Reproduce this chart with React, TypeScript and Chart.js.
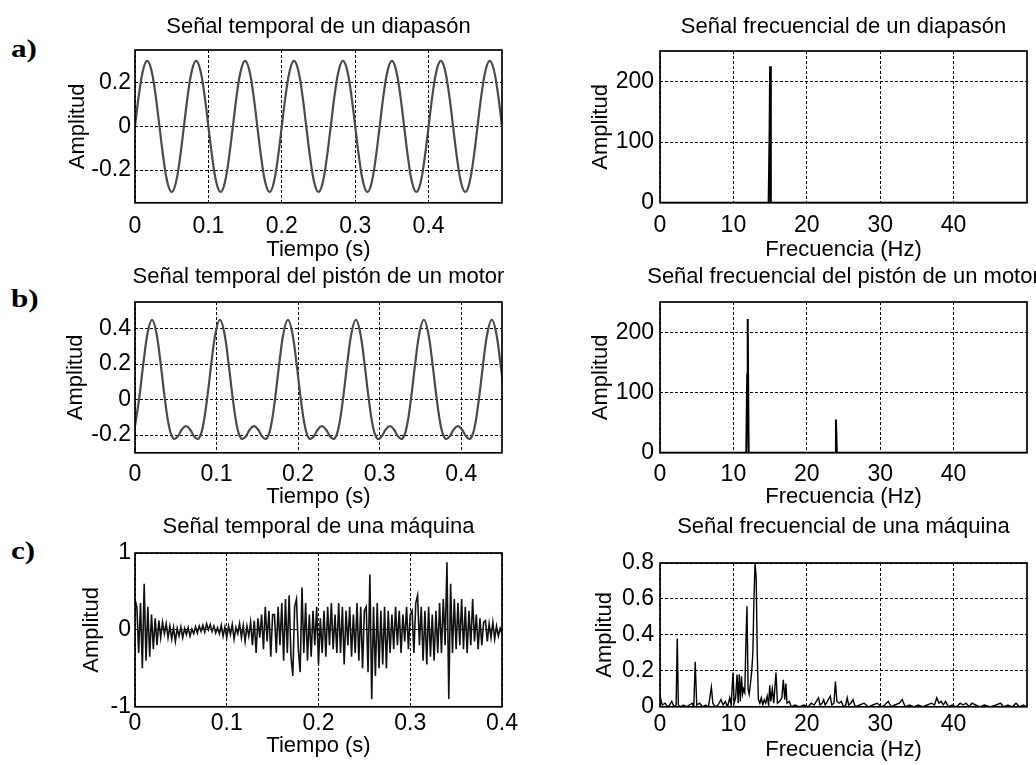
import React, { useEffect, useRef } from "react";
import { Chart, registerables } from "chart.js";

Chart.register(...registerables);

const FONT = "'Liberation Sans', Arial, Helvetica, sans-serif";
const TEXT_COLOR = "#000";

// ---------------- data ----------------
// a) tuning fork, time signal (sample step in seconds)
const PASO_DIAPASON = 1 / 180;
const senalDiapason = [
  0, 0.15, 0.26, 0.3, 0.26, 0.15, 0, -0.15, -0.26, -0.3, -0.26, -0.15,
  0, 0.15, 0.26, 0.3, 0.26, 0.15, 0, -0.15, -0.26, -0.3, -0.26, -0.15,
  0, 0.15, 0.26, 0.3, 0.26, 0.15, 0, -0.15, -0.26, -0.3, -0.26, -0.15,
  0, 0.15, 0.26, 0.3, 0.26, 0.15, 0, -0.15, -0.26, -0.3, -0.26, -0.15,
  0, 0.15, 0.26, 0.3, 0.26, 0.15, 0, -0.15, -0.26, -0.3, -0.26, -0.15,
  0, 0.15, 0.26, 0.3, 0.26, 0.15, 0, -0.15, -0.26, -0.3, -0.26, -0.15,
  0, 0.15, 0.26, 0.3, 0.26, 0.15, 0, -0.15, -0.26, -0.3, -0.26, -0.15,
  0, 0.15, 0.26, 0.3, 0.26, 0.15, 0,
];

// b) engine piston, time signal
const PASO_PISTON = 1 / 192;
const senalPiston = [
  -0.15, 0.01, 0.21, 0.38, 0.45, 0.38, 0.21, 0.01, -0.15, -0.22, -0.21, -0.17, -0.15, -0.17, -0.21, -0.22,
  -0.15, 0.01, 0.21, 0.38, 0.45, 0.38, 0.21, 0.01, -0.15, -0.22, -0.21, -0.17, -0.15, -0.17, -0.21, -0.22,
  -0.15, 0.01, 0.21, 0.38, 0.45, 0.38, 0.21, 0.01, -0.15, -0.22, -0.21, -0.17, -0.15, -0.17, -0.21, -0.22,
  -0.15, 0.01, 0.21, 0.38, 0.45, 0.38, 0.21, 0.01, -0.15, -0.22, -0.21, -0.17, -0.15, -0.17, -0.21, -0.22,
  -0.15, 0.01, 0.21, 0.38, 0.45, 0.38, 0.21, 0.01, -0.15, -0.22, -0.21, -0.17, -0.15, -0.17, -0.21, -0.22,
  -0.15, 0.01, 0.21, 0.38, 0.45, 0.38, 0.21, 0.01,
];

// c) machine, time signal
const PASO_MAQUINA = 0.002;
const senalMaquina = [
  0.4, 0.3, -0.3, 0.35, -0.5, 0.6, -0.4, 0.3,
  -0.35, 0.2, -0.25, 0.15, -0.2, 0.12, -0.1,
  0.1, -0.05, 0.08, -0.1, 0.05, -0.12, 0.03, -0.15, 0.02, -0.08, 0.04,
  -0.1, 0.02, -0.06, 0.03, -0.08, 0.01, -0.05, 0.04, -0.04, 0.05, -0.02, 0.06, -0.03, 0.08, 0.0, 0.07, -0.02, 0.05, -0.04, 0.03,
  -0.05, 0.06, -0.08, 0.04, -0.1, 0.05, -0.06, 0.07, -0.12, 0.03, -0.05, 0.08, -0.1, 0.06, -0.15, 0.05, -0.08, 0.1, -0.2, 0.12,
  -0.3, 0.15, -0.1, 0.2, -0.25, 0.3, -0.15, 0.25, -0.35, 0.2,
  0.2, -0.3, 0.3, -0.2, 0.35, -0.4, 0.4, -0.3, 0.45, -0.35, -0.6, 0.3, 0.4, -0.25, -0.55, 0.55, -0.3, 0.35, -0.4, 0.2,
  -0.35, 0.25, -0.2, 0.3, -0.45, 0.15, -0.3, 0.25, -0.35, 0.3, -0.2, 0.35, -0.25, 0.2, -0.3,
  0.35, -0.3, 0.3, -0.45, 0.25, -0.2, 0.3, -0.35, 0.2, -0.3, 0.35, -0.4, 0.3, -0.5, 0.25,
  0.3, -0.55, 0.72, -0.9, 0.3, -0.6, 0.35, -0.5, 0.25, -0.45,
  0.3, -0.5, 0.25, -0.3, 0.2, -0.25, 0.3, -0.2, 0.25, -0.3, 0.2, -0.15, 0.3, -0.25, 0.2,
  0.25, -0.3, 0.35, 0.45, -0.2, 0.3, -0.4, 0.25, -0.45, 0.3, -0.35, 0.2, -0.4, 0.25, -0.3,
  0.35, -0.3, 0.4, -0.2, 0.88, -0.9, 0.6, -0.3, 0.4, -0.25,
  0.35, -0.2, 0.4, -0.25, 0.3, -0.3, 0.25, -0.2, 0.4, -0.15, 0.2, -0.25, 0.15, -0.2, 0.1,
  0.12, -0.15, 0.08, -0.1, 0.1, -0.12, 0.05, -0.08, 0.02, -0.05,
];

// spectra (frequency in Hz, amplitude)
const frecDiapason = [0, 14.8, 14.93, 15.0, 15.1, 49.95];
const ampDiapason = [0, 0, 120, 225, 0, 0];

const frecPiston = [0, 11.75, 11.88, 11.95, 12.08, 23.85, 23.97, 24.1, 49.95];
const ampPiston = [0, 0, 130, 222, 0, 0, 55, 0, 0];

const frecMaquina = [
  0, 0.3, 0.7, 1.0, 1.3, 1.6, 1.9, 2.2, 2.35, 2.5, 2.8, 3.2, 3.6, 4.0, 4.4, 4.6, 4.8, 5.0, 5.4, 5.8,
  6.2, 6.6, 7.0, 7.2, 7.5, 7.9, 8.3, 8.6, 8.9, 9.2, 9.5, 9.7, 9.95, 10.1, 10.3, 10.5, 10.65, 10.8, 10.95, 11.1,
  11.25, 11.4, 11.55, 11.7, 11.85, 12.0, 12.15, 12.3, 12.5, 12.65, 12.8, 12.95, 13.1, 13.25, 13.4, 13.6, 13.8, 14.0, 14.2, 14.4,
  14.6, 14.8, 14.95, 15.1, 15.3, 15.5, 15.8, 16.0, 16.3, 16.6, 16.8, 17.0, 17.15, 17.3, 17.6, 17.9, 18.4, 19.0, 19.6, 20.2,
  20.6, 21.0, 21.3, 21.6, 21.8, 22.1, 22.3, 22.5, 22.8, 23.2, 23.4, 23.7, 23.9, 24.1, 24.4, 24.7, 25.0, 25.3, 25.5, 25.7,
  26.0, 26.3, 26.6, 27.2, 27.8, 28.4, 29.0, 29.6, 30.2, 30.6, 31.1, 31.5, 32.0, 32.6, 33.0, 33.4, 34.0, 34.6, 35.2, 35.8,
  36.4, 37.0, 37.4, 37.7, 38.0, 38.3, 38.6, 38.9, 39.3, 39.8, 40.4, 40.9, 41.3, 41.7, 42.1, 42.5, 43.0, 43.5, 44.2, 45.0,
  45.8, 46.4, 46.8, 47.4, 48.0, 48.5, 49.0, 49.5, 49.95,
];
const ampMaquina = [
  0.06, 0.01, 0.02, 0.0, 0.01, 0.03, 0.0, 0.01, 0.38, 0.01, 0.0, 0.01, 0.0, 0.01, 0.02, 0.0, 0.25, 0.01, 0.02, 0.0,
  0.01, 0.0, 0.11, 0.02, 0.0, 0.01, 0.04, 0.01, 0.03, 0.0, 0.05, 0.01, 0.19, 0.02, 0.05, 0.18, 0.02, 0.18, 0.03, 0.17,
  0.07, 0.1, 0.08, 0.35, 0.56, 0.1, 0.07, 0.12, 0.2, 0.3, 0.6, 0.8, 0.72, 0.3, 0.04, 0.02, 0.05, 0.01, 0.04, 0.02,
  0.06, 0.01, 0.12, 0.03, 0.1, 0.02, 0.19, 0.02, 0.03, 0.05, 0.15, 0.04, 0.13, 0.02, 0.03, 0.0, 0.01, 0.0, 0.01, 0.0,
  0.02, 0.01, 0.03, 0.05, 0.01, 0.02, 0.04, 0.01, 0.03, 0.06, 0.01, 0.02, 0.14, 0.03, 0.02, 0.03, 0.0, 0.01, 0.05, 0.01,
  0.02, 0.04, 0.0, 0.01, 0.02, 0.0, 0.01, 0.02, 0.0, 0.01, 0.03, 0.0, 0.01, 0.02, 0.04, 0.0, 0.01, 0.0, 0.01, 0.0,
  0.01, 0.02, 0.01, 0.05, 0.02, 0.03, 0.01, 0.03, 0.0, 0.01, 0.0, 0.02, 0.01, 0.02, 0.0, 0.02, 0.01, 0.0, 0.01, 0.0,
  0.01, 0.02, 0.0, 0.01, 0.0, 0.02, 0.0, 0.01, 0.0,
];

// tick values
const ticksTiempoA = [0, 0.1, 0.2, 0.3, 0.4];
const ticksAmpA = [-0.2, 0, 0.2];
const ticksTiempoB = [0, 0.1, 0.2, 0.3, 0.4];
const ticksAmpB = [-0.2, 0, 0.2, 0.4];
const ticksTiempoC = [0, 0.1, 0.2, 0.3, 0.4];
const ticksAmpC = [-1, 0, 1];
const ticksFrec = [0, 10, 20, 30, 40];
const ticksEspectroAB = [0, 100, 200];
const ticksEspectroC = [0, 0.2, 0.4, 0.6, 0.8];

// ---------------- helpers ----------------
const serie = (vals: number[], paso: number) => vals.map((v, i) => ({ x: i * paso, y: v }));
const pares = (xs: number[], ys: number[]) => xs.map((x, i) => ({ x, y: ys[i] }));

const FS = 22; // font size
const TFS = 23; // tick font size
const LH = FS * 1.2;
const TLH = TFS * 1.2;
const YW = 80; // y axis box width
const PT = 50; // top padding (title room)
const PR = 40; // right padding

type PanelCfg = {
  frame: { l: number; t: number; r: number; b: number };
  title: string;
  titleBase: number;
  xTitle: string;
  xTitleC: number;
  xTickC: number;
  yTickRight: number;
  yTitleC: number;
  xMin: number;
  xMax: number;
  yMin: number;
  yMax: number;
  xTicks: number[];
  yTicks: number[];
  data: { x: number; y: number }[];
  color: string;
  width: number;
  tension: number;
};

const panelDecor = {
  id: "panelDecor",
  afterDraw(chart: any, _args: any, opts: any) {
    const { ctx, chartArea: a } = chart;
    ctx.save();
    ctx.setLineDash([]);
    ctx.strokeStyle = "#000";
    ctx.lineWidth = 1.7;
    ctx.strokeRect(a.left, a.top, a.right - a.left, a.bottom - a.top);
    ctx.fillStyle = TEXT_COLOR;
    ctx.font = `${FS}px ${FONT}`;
    ctx.textAlign = "center";
    ctx.textBaseline = "alphabetic";
    ctx.fillText(opts.title, (a.left + a.right) / 2, a.top - opts.gap);
    ctx.restore();
  },
};

function geometry(p: PanelCfg) {
  const { l, t, r, b } = p.frame;
  const XH = p.xTitleC - b + LH / 2;
  const left = l - YW;
  const top = t - PT;
  const w = YW + (r - l) + PR;
  const h = PT + (b - t) + XH;
  return { left, top, w: Math.round(w), h: Math.round(h), XH };
}

function axis(min: number, max: number, tickVals: number[], extra: any) {
  return {
    type: "linear",
    min,
    max,
    afterBuildTicks: (s: any) => {
      s.ticks = tickVals.map((v) => ({ value: v }));
    },
    ticks: {
      color: TEXT_COLOR,
      font: { family: FONT, size: TFS },
      autoSkip: false,
      maxRotation: 0,
      minRotation: 0,
      callback: (v: any) => String(v),
      ...extra.ticks,
    },
    grid: { color: "#000", lineWidth: 1, drawTicks: false },
    border: { display: false, dash: [3, 2] },
    title: {
      display: true,
      text: extra.titleText,
      color: TEXT_COLOR,
      font: { family: FONT, size: FS },
      padding: extra.titlePadding,
    },
    afterFit: extra.afterFit,
  };
}

function Panel({ p }: { p: PanelCfg }) {
  const ref = useRef<HTMLCanvasElement>(null);
  const g = geometry(p);
  useEffect(() => {
    const chart = new Chart(ref.current as HTMLCanvasElement, {
      type: "line",
      data: {
        datasets: [
          {
            data: p.data,
            borderColor: p.color,
            borderWidth: p.width,
            pointRadius: 0,
            tension: p.tension,
            fill: false,
          },
        ],
      },
      options: {
        animation: false,
        responsive: false,
        maintainAspectRatio: false,
        events: [],
        parsing: false,
        layout: { padding: { left: 0, top: PT, right: PR, bottom: 0 } },
        plugins: {
          legend: { display: false },
          tooltip: { enabled: false },
          title: { display: false },
          panelDecor: { title: p.title, gap: p.frame.t - p.titleBase },
        } as any,
        scales: {
          x: axis(p.xMin, p.xMax, p.xTicks, {
            ticks: { padding: p.xTickC - p.frame.b - TLH / 2 },
            titleText: p.xTitle,
            titlePadding: { top: 0, bottom: 0 },
            afterFit: (s: any) => {
              s.height = g.XH;
            },
          }) as any,
          y: axis(p.yMin, p.yMax, p.yTicks, {
            ticks: { padding: p.frame.l - p.yTickRight },
            titleText: "Amplitud",
            titlePadding: { top: p.yTitleC - g.left - LH / 2, bottom: 0 },
            afterFit: (s: any) => {
              s.width = YW;
            },
          }) as any,
        },
      },
      plugins: [panelDecor as any],
    });
    return () => chart.destroy();
  }, []);
  return (
    <canvas
      ref={ref}
      width={g.w}
      height={g.h}
      style={{ position: "absolute", left: g.left, top: g.top, width: g.w, height: g.h }}
    />
  );
}

const LINE_GRAY = "#4a4a4a";

const PANELS: PanelCfg[] = [
  {
    frame: { l: 135, t: 50, r: 502, b: 203 },
    title: "Señal temporal de un diapasón",
    titleBase: 33,
    xTitle: "Tiempo (s)",
    xTitleC: 250,
    xTickC: 227,
    yTickRight: 131,
    yTitleC: 78,
    xMin: 0, xMax: 0.5, yMin: -0.35, yMax: 0.35,
    xTicks: ticksTiempoA, yTicks: ticksAmpA,
    data: serie(senalDiapason, PASO_DIAPASON),
    color: LINE_GRAY, width: 2.2, tension: 0.4,
  },
  {
    frame: { l: 660, t: 51, r: 1027, b: 203 },
    title: "Señal frecuencial de un diapasón",
    titleBase: 33,
    xTitle: "Frecuencia (Hz)",
    xTitleC: 250,
    xTickC: 226,
    yTickRight: 654,
    yTitleC: 601,
    xMin: 0, xMax: 50, yMin: 0, yMax: 250,
    xTicks: ticksFrec, yTicks: ticksEspectroAB,
    data: pares(frecDiapason, ampDiapason),
    color: "#000", width: 2, tension: 0,
  },
  {
    frame: { l: 135, t: 302, r: 502, b: 453 },
    title: "Señal temporal del pistón de un motor",
    titleBase: 283,
    xTitle: "Tiempo (s)",
    xTitleC: 497,
    xTickC: 475,
    yTickRight: 131,
    yTitleC: 76,
    xMin: 0, xMax: 0.45, yMin: -0.3, yMax: 0.55,
    xTicks: ticksTiempoB, yTicks: ticksAmpB,
    data: serie(senalPiston, PASO_PISTON),
    color: LINE_GRAY, width: 2.2, tension: 0.4,
  },
  {
    frame: { l: 660, t: 302, r: 1027, b: 453 },
    title: "Señal frecuencial del pistón de un motor",
    titleBase: 283,
    xTitle: "Frecuencia (Hz)",
    xTitleC: 497,
    xTickC: 475,
    yTickRight: 654,
    yTitleC: 601,
    xMin: 0, xMax: 50, yMin: 0, yMax: 250,
    xTicks: ticksFrec, yTicks: ticksEspectroAB,
    data: pares(frecPiston, ampPiston),
    color: "#000", width: 2, tension: 0,
  },
  {
    frame: { l: 135, t: 553, r: 502, b: 707 },
    title: "Señal temporal de una máquina",
    titleBase: 533,
    xTitle: "Tiempo (s)",
    xTitleC: 746,
    xTickC: 724,
    yTickRight: 131,
    yTitleC: 92,
    xMin: 0, xMax: 0.4, yMin: -1, yMax: 1,
    xTicks: ticksTiempoC, yTicks: ticksAmpC,
    data: serie(senalMaquina, PASO_MAQUINA),
    color: "#111", width: 1.6, tension: 0,
  },
  {
    frame: { l: 660, t: 563, r: 1027, b: 707 },
    title: "Señal frecuencial de una máquina",
    titleBase: 533,
    xTitle: "Frecuencia (Hz)",
    xTitleC: 750,
    xTickC: 725,
    yTickRight: 654,
    yTitleC: 605,
    xMin: 0, xMax: 50, yMin: 0, yMax: 0.8,
    xTicks: ticksFrec, yTicks: ticksEspectroC,
    data: pares(frecMaquina, ampMaquina),
    color: "#000", width: 1.4, tension: 0,
  },
];

const LETRAS = [
  { text: "a)", top: 36 },
  { text: "b)", top: 286 },
  { text: "c)", top: 538 },
];

export default function App() {
  return (
    <div
      style={{
        position: "absolute",
        left: 0,
        top: 0,
        width: 1036,
        height: 765,
        overflow: "hidden",
        background: "#fff",
      }}
    >
      {PANELS.map((p, i) => (
        <Panel key={i} p={p} />
      ))}
      {LETRAS.map((l) => (
        <div
          key={l.text}
          style={{
            position: "absolute",
            left: 11,
            top: l.top,
            fontFamily: "'Liberation Serif', 'Times New Roman', serif",
            fontWeight: "bold",
            fontSize: 26,
            lineHeight: 1,
            color: "#000",
            transform: "scaleX(1.2)",
            transformOrigin: "left top",
            whiteSpace: "nowrap",
          }}
        >
          {l.text}
        </div>
      ))}
    </div>
  );
}
